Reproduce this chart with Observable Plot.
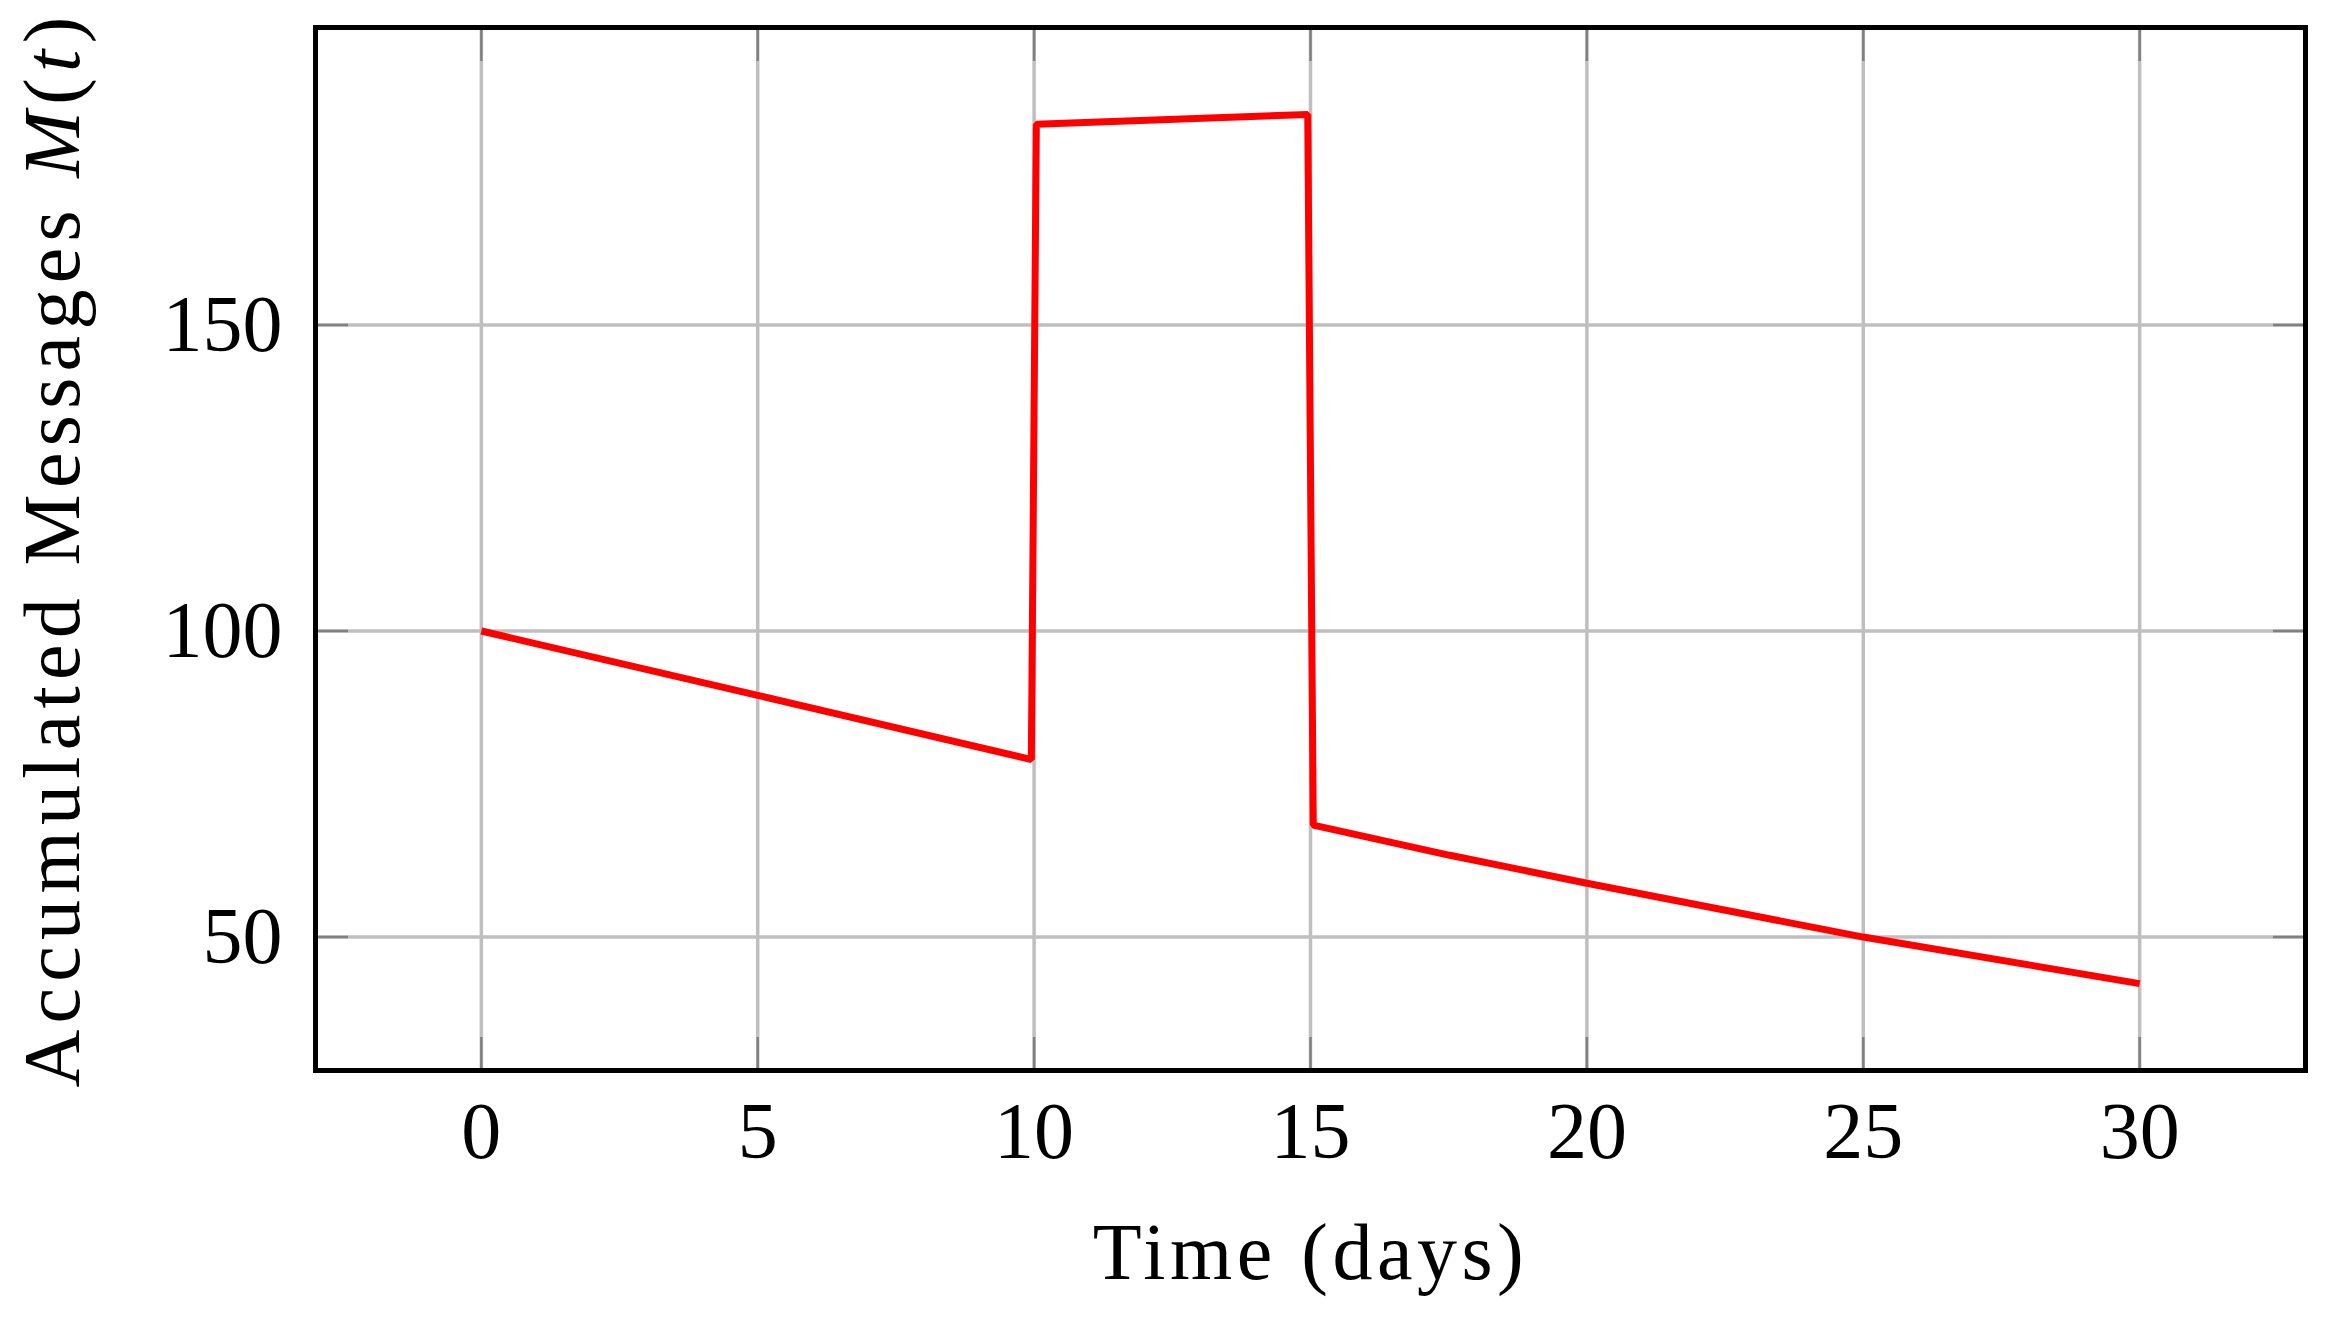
<!DOCTYPE html>
<html>
<head>
<meta charset="utf-8">
<script src="https://cdn.jsdelivr.net/npm/d3@7"></script>
<script src="https://cdn.jsdelivr.net/npm/@observablehq/plot@0.6"></script>
<style>
html, body { margin: 0; padding: 0; background: #fff; }
#chart svg { display: block; }
</style>
</head>
<body>
<div id="chart"></div>
<script>
// Data
const days     = [0,    5,    9.95, 10.04, 14.95, 15.05, 17.5, 20,   25,   30];
const messages = [100,  89.5, 79.0, 182.8, 184.4, 68.3,  63.4, 58.8, 50.0, 42.4];
const xTicks = [0, 5, 10, 15, 20, 25, 30];
const yTicks = [50, 100, 150];
const xLabel = "Time (days)";
const yLabelParts = [["Accumulated Messages ", false], ["M", true], ["(", false], ["t", true], [")", false]];

const data = days.map((d, i) => ({day: d, m: messages[i]}));

const tickStyle = {text: null, label: null, tickSize: -33, stroke: "#808080", strokeWidth: 2.5};

const chart = Plot.plot({
  width: 2326,
  height: 1324,
  marginLeft: 315,
  marginRight: 21,
  marginTop: 27,
  marginBottom: 254,
  style: {fontFamily: "'Liberation Serif', serif", fontSize: "80px", background: "#fff", color: "#000"},
  x: {domain: [-3, 33], ticks: xTicks},
  y: {domain: [28.2, 198.6], ticks: yTicks},
  marks: [
    Plot.gridX(xTicks, {stroke: "#bfbfbf", strokeOpacity: 1, strokeWidth: 3.5}),
    Plot.gridY(yTicks, {stroke: "#bfbfbf", strokeOpacity: 1, strokeWidth: 3.5}),
    Plot.axisX(xTicks, {anchor: "bottom", ...tickStyle}),
    Plot.axisX(xTicks, {anchor: "top", ...tickStyle}),
    Plot.axisY(yTicks, {anchor: "left", ...tickStyle}),
    Plot.axisY(yTicks, {anchor: "right", ...tickStyle}),
    Plot.axisX(xTicks, {anchor: "bottom", tickSize: 0, tickPadding: 31, label: xLabel, labelAnchor: "center", labelOffset: 208, labelArrow: "none"}),
    Plot.axisY(yTicks, {anchor: "left", tickSize: 0, tickPadding: 33, label: "Accumulated Messages M(t)", labelAnchor: "center", labelOffset: 293, labelArrow: "none"}),
    Plot.line(data, {x: "day", y: "m", stroke: "#ff0000", strokeWidth: 7, strokeLinejoin: "miter", strokeLinecap: "butt"}),
    Plot.frame({stroke: "#000", strokeWidth: 5})
  ]
});

document.getElementById("chart").appendChild(chart);
const svg = chart.tagName.toLowerCase() === "svg" ? chart : chart.querySelector("svg");

// italic M and t in the y label
const ylab = d3.select(svg).select('g[aria-label="y-axis label"] text');
ylab.text(null).attr("letter-spacing", "6.3px");
for (const [s, it] of yLabelParts) {
  const t = ylab.append("tspan").text(s);
  if (it) t.attr("font-style", "italic");
}
d3.select(svg).select('g[aria-label="x-axis label"] text').attr("letter-spacing", "4.5px");
</script>
</body>
</html>
